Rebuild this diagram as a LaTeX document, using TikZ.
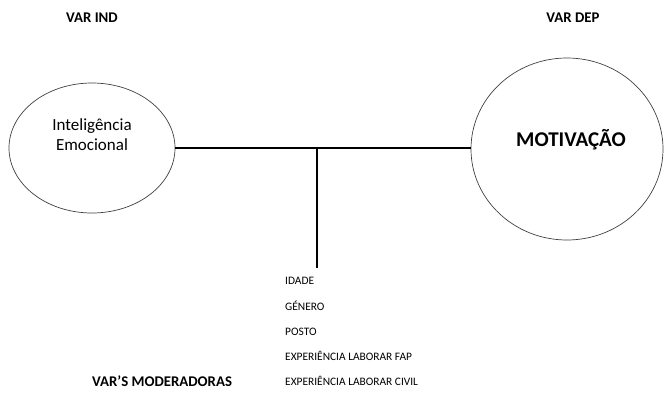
\documentclass[tikz,border=0pt]{standalone}
\usepackage{fontspec}
\setmainfont{Carlito}
\usetikzlibrary{shapes.geometric}
\begin{document}
\begin{tikzpicture}[x=1pt,y=-1pt,
  var/.style={draw=black!75,line width=0.7pt,ellipse,inner sep=0pt},
  link/.style={line width=1.8pt},
  head/.style={font=\fontsize{14.8}{17}\selectfont\bfseries,anchor=center,inner sep=0pt},
  modtxt/.style={font=\fontsize{11.4}{13}\selectfont,anchor=base west,inner sep=0pt}]
\useasboundingbox (0,0) rectangle (665,392);
% variables
\node[var,minimum width=166pt,minimum height=130pt] (ie) at (92,148) {};
\node[var,minimum width=192pt,minimum height=182pt] (mo) at (567,149) {};
\node[font=\fontsize{17}{20}\selectfont,align=center,inner sep=0pt] (ietxt) at (92,135) {Inteligência\\Emocional};
\node[font=\fontsize{21}{24}\selectfont\bfseries,inner sep=0pt] (motxt) at (571,140) {MOTIVAÇÃO};
% connectors
\coordinate (j) at (317,148);
\coordinate (jd) at (317,268);
\draw[link] (ie.east) -- (ie.east -| mo.west);
\draw[link] (j) -- (jd);
% headings
\node[head] (vind) at (92,18) {VAR IND};
\node[head] (vdep) at (573,18) {VAR DEP};
\node[head,anchor=west] (vmod) at (92,381) {VAR’S MODERADORAS};
% moderators
\node[modtxt] (m1) at (285,284.5) {IDADE};
\node[modtxt] (m2) at (285,310.5) {GÉNERO};
\node[modtxt] (m3) at (285,335.5) {POSTO};
\node[modtxt] (m4) at (285,360.5) {EXPERIÊNCIA LABORAR FAP};
\node[modtxt] (m5) at (285,385.5) {EXPERIÊNCIA LABORAR CIVIL};
\end{tikzpicture}
\end{document}
